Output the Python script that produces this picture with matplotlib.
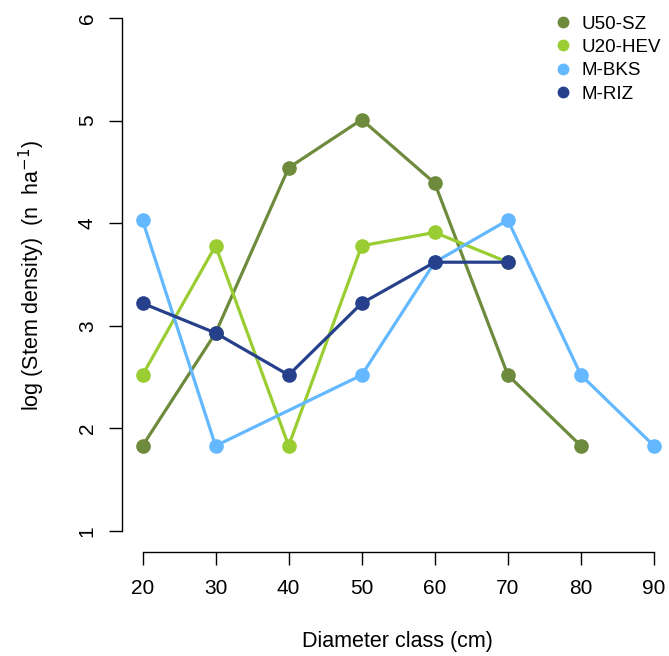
import matplotlib
matplotlib.use("Agg")
import matplotlib.pyplot as plt
from matplotlib.lines import Line2D

plt.rcParams['font.family'] = ['Liberation Sans', 'DejaVu Sans']

# diameter classes and log stem density per site
x_u50 = [20, 30, 40, 50, 60, 70, 80]
y_u50 = [1.83, 2.93, 4.54, 5.01, 4.39, 2.52, 1.83]
x_u20 = [20, 30, 40, 50, 60, 70]
y_u20 = [2.52, 3.78, 1.83, 3.78, 3.91, 3.62]
x_bks = [20, 30, 50, 60, 70, 80, 90]
y_bks = [4.03, 1.83, 2.52, 3.62, 4.03, 2.52, 1.83]
x_riz = [20, 30, 40, 50, 60, 70]
y_riz = [3.22, 2.93, 2.52, 3.22, 3.62, 3.62]

names = ["U50-SZ", "U20-HEV", "M-BKS", "M-RIZ"]
cols = ["#6E8B3D", "#9ACD32", "#63B8FF", "#27408B"]
xticks = [20, 30, 40, 50, 60, 70, 80, 90]
yticks = [1, 2, 3, 4, 5, 6]

W, H = 669, 656
fig = plt.figure(figsize=(W/100, H/100), dpi=100)
# axes spans the data range, spines pushed outward R-style
x0, x1, y0, y1 = 142.5, 654, 18, 531
ax = fig.add_axes([x0/W, 1-y1/H, (x1-x0)/W, (y1-y0)/H])

series = [(x_u50, y_u50), (x_u20, y_u20), (x_bks, y_bks), (x_riz, y_riz)]
for (xs, ys), c in zip(series, cols):
    ax.plot(xs, ys, color=c, lw=2.3, marker='o', ms=9.5, clip_on=False)

ax.set_xlim(20, 90)
ax.set_ylim(1, 6)
ax.set_xticks(xticks)
ax.set_yticks(yticks)
for s in ['top', 'right']:
    ax.spines[s].set_visible(False)
ax.spines['left'].set_position(('outward', 15))
ax.spines['bottom'].set_position(('outward', 15))
for s in ['left', 'bottom']:
    ax.spines[s].set_linewidth(1.0)
ax.tick_params(length=9.4, width=1.0, labelsize=15)
ax.tick_params(axis='x', pad=10)
ax.tick_params(axis='y', pad=8.5)
for lab in ax.get_yticklabels():
    lab.set_rotation(90)
    lab.set_va('center')

fig.text(397/W, 1-642/H, "Diameter class (cm)", fontsize=15.5,
         ha='center', va='center')
fig.text(32/W, 1-276/H, "log (Stem density)  (n  ha$^{-1}$)", fontsize=15.5,
         ha='center', va='center', rotation=90)

handles = [Line2D([], [], ls='none', marker='o', ms=7.5, color=c) for c in cols]
fig.legend(handles, names, loc='upper left', bbox_to_anchor=(546/W, 1-8/H),
           frameon=False, fontsize=13.5, handlelength=1.0, handletextpad=0.5,
           labelspacing=0.33, borderaxespad=0)

fig.savefig("out.png", dpi=100)
